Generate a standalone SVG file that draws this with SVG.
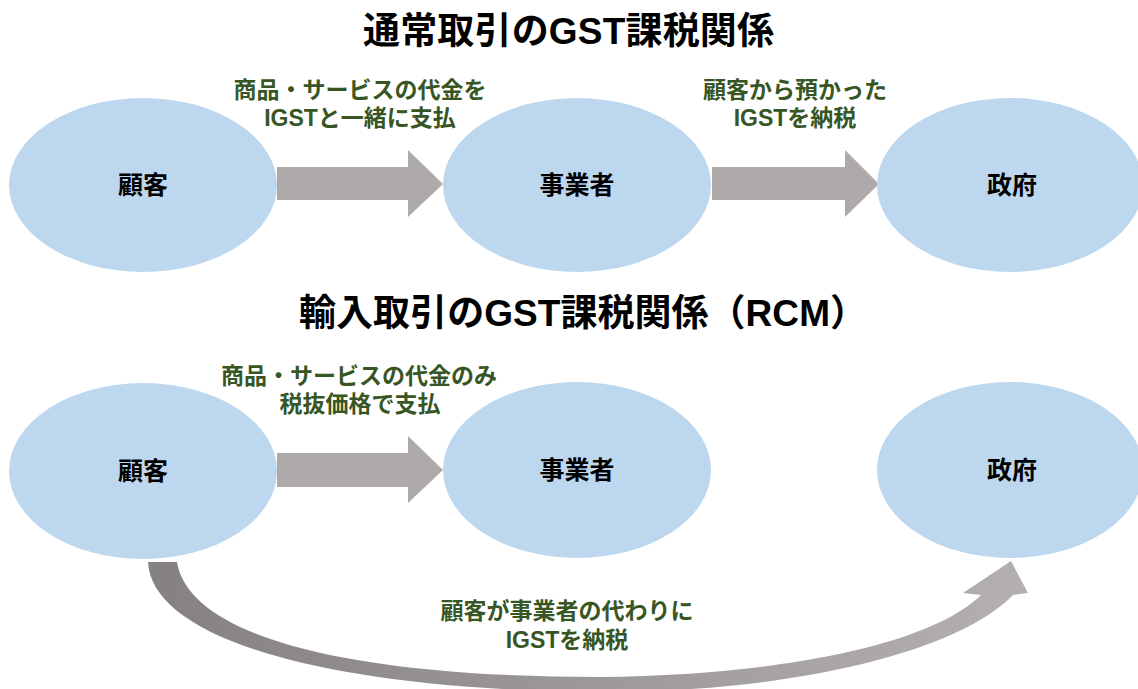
<svg xmlns="http://www.w3.org/2000/svg" width="1138" height="689" viewBox="0 0 1138 689">
<style>
.node{fill:#bdd7ee;}
.lbl{font-family:"Liberation Sans","Noto Sans CJK JP",sans-serif;font-weight:bold;fill:#000;font-size:25px;text-anchor:middle;dominant-baseline:central;}
.title{font-family:"Liberation Sans","Noto Sans CJK JP",sans-serif;font-weight:bold;fill:#000;font-size:37px;dominant-baseline:central;}
.edge{font-family:"Liberation Sans","Noto Sans CJK JP",sans-serif;font-weight:bold;fill:#375623;font-size:23px;text-anchor:middle;dominant-baseline:central;}
.arr{fill:#aeaaaa;}
</style>
<defs>
<linearGradient id="curveGrad" x1="148" y1="0" x2="1028" y2="0" gradientUnits="userSpaceOnUse">
<stop offset="0" stop-color="#858180"/>
<stop offset="1" stop-color="#b4b0af"/>
</linearGradient>
</defs>
<rect width="1138" height="689" fill="#fff"/>
<text class="title" x="363" y="31" textLength="411" lengthAdjust="spacing">通常取引のGST課税関係</text>
<text class="title" x="299" y="313" textLength="568" lengthAdjust="spacing">輸入取引のGST課税関係（RCM）</text>

<g id="connectors">
<path class="arr" d="M277,167 H408 V150 L443,184 L408,217 V200 H277 Z"/>
<path class="arr" d="M712,167 H845 V150 L879,184 L845,217 V200 H712 Z"/>
<path class="arr" d="M277,453 H408 V436 L443,470 L408,503 V487 H277 Z"/>
<path fill="url(#curveGrad)" d="M148,562 C152,640 330,690 600,692 C800,692 960,650 1013,595 L1028,593 L1011,561 L963,593 L981,595 C930,645 780,675 600,677 C360,677 190,640 177,562 Z"/>
<text class="edge" x="360" y="90">商品・サービスの代金を</text>
<text class="edge" x="360" y="118">IGSTと一緒に支払</text>
<text class="edge" x="795" y="90">顧客から預かった</text>
<text class="edge" x="795" y="118">IGSTを納税</text>
<text class="edge" x="359" y="376">商品・サービスの代金のみ</text>
<text class="edge" x="360" y="404">税抜価格で支払</text>
<text class="edge" x="567" y="611">顧客が事業者の代わりに</text>
<text class="edge" x="567" y="640">IGSTを納税</text>
</g>

<g id="customer1"><ellipse class="node" cx="143" cy="185" rx="134" ry="87"/><text class="lbl" x="143" y="185">顧客</text></g>
<g id="business1"><ellipse class="node" cx="577" cy="185" rx="134" ry="87"/><text class="lbl" x="577" y="185">事業者</text></g>
<g id="government1"><ellipse class="node" cx="1010" cy="185" rx="133" ry="87"/><text class="lbl" x="1012" y="185">政府</text></g>
<g id="customer2"><ellipse class="node" cx="143" cy="471" rx="134" ry="88"/><text class="lbl" x="143" y="471">顧客</text></g>
<g id="business2"><ellipse class="node" cx="577" cy="470" rx="134" ry="88"/><text class="lbl" x="577" y="470">事業者</text></g>
<g id="government2"><ellipse class="node" cx="1010" cy="470" rx="133" ry="88"/><text class="lbl" x="1012" y="470">政府</text></g>
</svg>
